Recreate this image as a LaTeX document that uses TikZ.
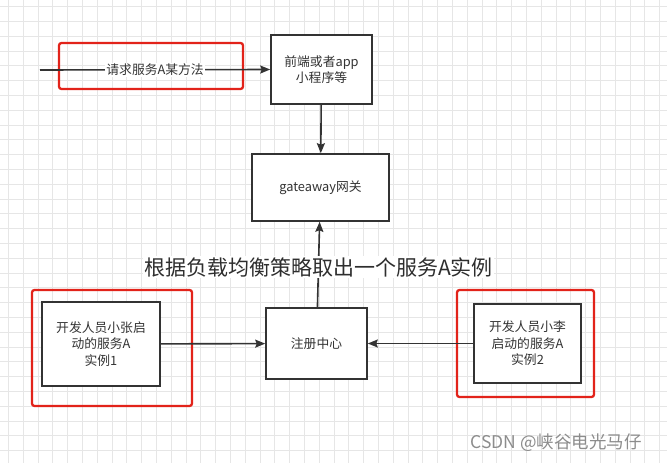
\documentclass[tikz,border=0pt]{standalone}
\usepackage{fontspec}
\setmainfont{Noto Sans CJK SC}
\usepackage{xcolor}
\usetikzlibrary{arrows.meta, positioning}

\definecolor{inkgray}{HTML}{333333}
\definecolor{hlred}{HTML}{E2231A}
\definecolor{gridgray}{HTML}{E6E6E6}
\definecolor{wmgray}{HTML}{8C8C8C}

\begin{document}
\begin{tikzpicture}[
  x=1pt, y=-1pt,
  box/.style={draw=inkgray, line width=1.6pt, fill=white, align=center, text=inkgray, font=\fontsize{12.8}{16.5}\selectfont},
  highlight/.style={draw=hlred, line width=2.3pt, rounded corners=2.5pt},
  arrow/.style={-{Stealth[length=10pt, width=8pt, inset=1.5pt]}, line width=1.6pt, draw=inkgray},
  edgelabel/.style={fill=white, inner sep=1pt, text=inkgray, font=\fontsize{12.8}{15}\selectfont},
  biglabel/.style={fill=white, inner sep=1pt, text=inkgray!90!black, font=\fontsize{21}{24}\selectfont},
  gridline/.style={draw=gridgray, line width=0.6pt}
]
  \useasboundingbox[fill=white] (0,0) rectangle (667,463);
  % background grid
  \foreach \gx in {8.3,23.1,...,667} \draw[gridline] (\gx,0) -- (\gx,463);
  \foreach \gy in {6.5,21.3,...,463} \draw[gridline] (0,\gy) -- (667,\gy);

  % red highlight frames
  \node[highlight, minimum width=184pt, minimum height=46pt] (hlreq) at (151,66) {};
  \node[highlight, minimum width=160pt, minimum height=116pt] (hlzhang) at (112,348) {};
  \node[highlight, minimum width=137pt, minimum height=107pt] (hlli) at (525.5,343.5) {};

  \node[box, minimum width=101pt, minimum height=69pt] (front) at (321.5,69.5) {前端或者app\\小程序等};
  \node[box, minimum width=137pt, minimum height=67pt] (gateway) at (320.5,187.5) {gateaway网关};
  \node[box, minimum width=101pt, minimum height=71pt] (registry) at (316.5,343.5) {注册中心};
  \node[box, minimum width=118pt, minimum height=84pt] (devzhang) at (101,344) {开发人员小张启\\动的服务A\\实例1};
  \node[box, minimum width=107pt, minimum height=79pt] (devli) at (527.5,343.5) {开发人员小李\\启动的服务A\\实例2};
  \coordinate (client) at (40,70);

  \draw[arrow] (client) -- node[edgelabel]{请求服务A某方法} (front.west);
  \draw[arrow] (front) -- (gateway);
  \draw[arrow] (registry) -- node[biglabel, pos=0.47]{根据负载均衡策略取出一个服务A实例} (gateway);
  \draw[arrow] (devzhang) -- (registry);
  \draw[arrow] (devli) -- (registry);

  \node[text=wmgray, font=\fontsize{17.5}{20}\selectfont] (watermark) at (556,443) {CSDN @峡谷电光马仔};
\end{tikzpicture}
\end{document}
